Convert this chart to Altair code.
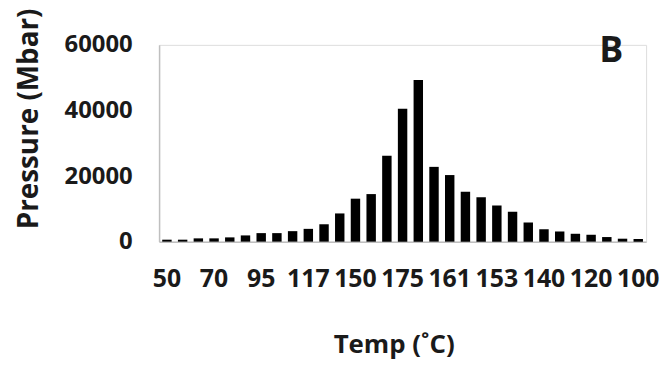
import json
import altair as alt
import pandas as pd

# Bar order (heating then cooling); only every third temperature is labelled
temp_labels = ["50", "", "", "70", "", "", "95", "", "", "117", "", "",
               "150", "", "", "175", "", "", "161", "", "", "153", "", "",
               "140", "", "", "120", "", "", "100"]
pressure = [600, 600, 1000, 1000, 1300, 1900, 2600, 2600, 3200, 3900, 5300,
            8600, 13100, 14500, 26200, 40500, 49300, 22800, 20300, 15200,
            13500, 11000, 9100, 5800, 3800, 3100, 2400, 2100, 1400, 900, 800]
y_ticks = [0, 20000, 40000, 60000]
panel_letter = "B"

df = pd.DataFrame({"idx": list(range(len(pressure))), "pressure": pressure})

FONT = "Open Sans"
label_expr = json.dumps(temp_labels) + "[datum.value]"

bars = alt.Chart(df).mark_bar(color="black").encode(
    x=alt.X(
        "idx:O",
        scale=alt.Scale(paddingInner=0.4, paddingOuter=0.2),
        axis=alt.Axis(
            title="Temp (˚C)",
            labelExpr=label_expr,
            labelAngle=0,
            labelOverlap=False,
            ticks=False,
            domainColor="#bfbfbf",
            domainWidth=1.5,
            labelPadding=25,
            labelFont=FONT,
            labelFontSize=25,
            labelFontWeight="bold",
            labelColor="#1a1a1a",
            titleFont=FONT,
            titleFontSize=26,
            titleFontWeight="bold",
            titleColor="#1a1a1a",
            titleX=236,
            titleY=104,
            titleBaseline="middle",
            titleAlign="center",
        ),
    ),
    y=alt.Y(
        "pressure:Q",
        scale=alt.Scale(domain=[0, 60000], nice=False),
        axis=alt.Axis(
            title="Pressure (Mbar)",
            values=y_ticks,
            format="d",
            ticks=False,
            grid=False,
            domainColor="#bfbfbf",
            domainWidth=1.5,
            labelPadding=27,
            labelFont=FONT,
            labelFontSize=24,
            labelFontWeight="bold",
            labelColor="#1a1a1a",
            titleFont=FONT,
            titleFontSize=28,
            titleFontWeight="bold",
            titleColor="#1a1a1a",
            titleX=-130,
            titleY=74,
            titleAngle=-90,
            titleBaseline="middle",
            titleAlign="center",
        ),
    ),
)

letter = alt.Chart(pd.DataFrame({"t": [panel_letter]})).mark_text(
    font=FONT, fontSize=36, fontWeight="bold", color="#1a1a1a",
    align="center", baseline="middle",
).encode(text="t:N", x=alt.value(455), y=alt.value(6))

chart = alt.layer(bars, letter).properties(
    width=490,
    height=198,
    autosize=alt.AutoSizeParams(type="none"),
    padding={"left": 152, "top": 36, "right": 16, "bottom": 118},
).configure_view(stroke=None).configure(background="white")

chart.save("out.html", embed_options={"renderer": "svg", "actions": False})
